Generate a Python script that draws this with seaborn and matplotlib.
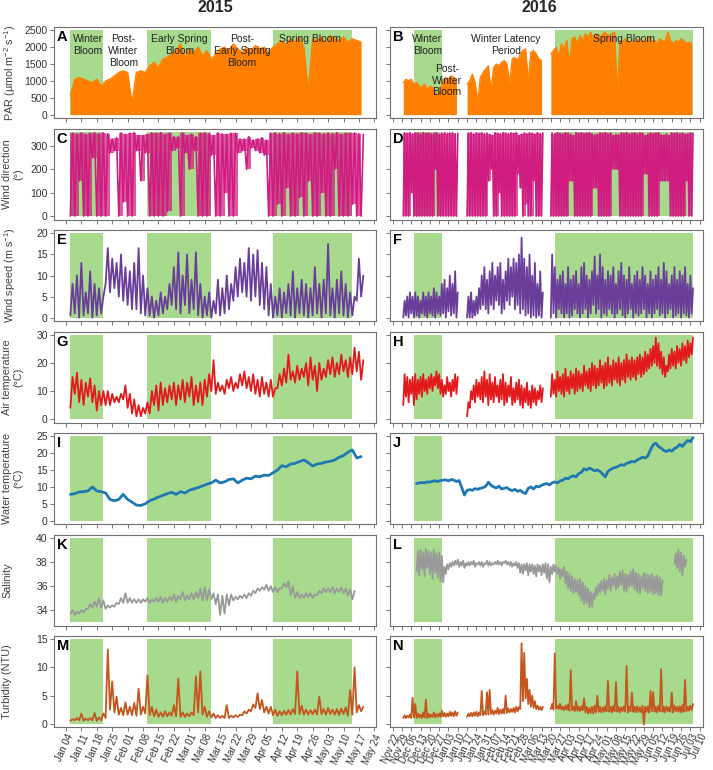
import numpy as np
import pandas as pd
import matplotlib
matplotlib.use("Agg")
import matplotlib.pyplot as plt
import seaborn as sns

# --- Data (one reading every 2 days) ---
STEP_DAYS = 2

start_2015 = "2015-01-06"
starts_2016 = ["2015-11-30", "2016-01-17", "2016-03-20"]
start_2016_water = "2015-12-10"
starts_2016_sal = ["2015-12-10", "2016-06-21"]

blooms_2015 = [("2015-01-06", "2015-01-21"), ("2015-02-10", "2015-03-11"), ("2015-04-08", "2015-05-14")]
blooms_2016 = [("2015-12-08", "2015-12-29"), ("2016-03-23", "2016-07-05")]

ticks_2015 = pd.date_range("2015-01-04", "2015-05-24", freq="7D")
ticks_2016 = pd.date_range("2015-11-22", "2016-07-10", freq="7D")

phases_2015 = ["Winter\nBloom", "Post-\nWinter\nBloom", "Early Spring\nBloom",
               "Post-\nEarly Spring\nBloom", "Spring Bloom"]
phases_2016 = ["Winter\nBloom", "Post-\nWinter\nBloom", "Winter Latency\nPeriod", "Spring Bloom"]

# PAR, daily maximum (umol m-2 s-1)
par_2015 = [550, 1050, 1100, 1050, 1000, 950, 1050, 850,
            1000, 1050, 1150, 1250, 1300, 1250, 350, 1250, 1300, 1250,
            1450, 1550, 1400, 1650, 1700, 1800, 1900, 2100, 1700, 1950, 1850, 2000, 1750, 1900, 1650,
            1800, 1950, 2000, 1900, 2100, 1950, 1850, 2000, 1900, 2050, 1950, 2000, 1850, 2000,
            2100, 2200, 2050, 2250, 2150, 2300, 2000, 700, 2250, 2200, 2300, 2100, 2350, 2250,
            2200, 2300, 2150, 2250, 2200, 2150]
par_2016 = [
    [950, 1050, 1000, 1050, 900, 950, 850, 800, 900, 750, 850, 800, 700, 500, 750, 1000,
     1100, 1050, 1150, 1100, 1000],
    [900, 1000, 1200, 950, 400, 1100, 1250, 1350, 1450, 700, 1400, 1500, 1450, 1550, 1600,
     1500, 900, 1650, 1700, 1600, 1800, 1900, 1950, 1000, 1850, 1900, 1800, 1650, 1600],
    [1800, 1900, 2000, 1700, 2100, 1950, 2200, 1500, 2250, 2300, 2100, 2350, 2200, 2400, 2300,
     2450, 2250, 2400, 2350, 2300, 2450, 2400, 2300, 2400, 2450, 600, 2200, 2150, 2250, 2200,
     2100, 2200, 2150, 2250, 2200, 2150, 2200, 2300, 2150, 2200, 2100, 2250, 2200, 2150, 2450,
     2200, 2100, 2200, 2150, 2250, 2200, 2100, 2150, 2100],
]

# wind direction (deg): low and high reading per step
wdir_2015_lo = [0, 0, 150, 0, 0, 250, 0, 0,
                0, 270, 280, 0, 60, 0, 0, 280, 150, 270,
                0, 0, 0, 0, 20, 280, 290,
                0, 270, 200, 280, 0, 0, 0,
                260, 0, 0, 100, 0, 0, 270,
                280, 200, 290, 280, 270, 260, 0,
                0, 50, 0, 120, 0, 0, 80, 0, 150, 0, 0, 100, 0, 0, 200, 0, 0, 0, 50, 0, 0]
wdir_2015_hi = [355, 352, 356, 350, 354, 357, 353, 356,
                352, 330, 335, 356, 350, 354, 357, 345, 345, 350,
                356, 354, 357, 350, 355, 340, 340,
                356, 345, 350, 340, 355, 357, 353,
                345, 356, 352, 350, 354, 355, 330,
                330, 340, 325, 330, 335, 325, 355,
                356, 353, 357, 350, 355, 352, 356, 354, 350, 357, 355, 352, 356, 353, 357,
                350, 355, 354, 356, 352, 350]
wdir_2016_lo = [
    [0, 0, 0, 100, 0, 0, 0, 0, 0, 0, 0, 0, 200, 0, 0, 0, 0, 0, 0, 0, 0],
    [0, 0, 0, 0, 0, 0, 0, 0, 150, 200, 0, 0, 100, 0, 0, 0, 0, 0, 0, 180, 120, 0, 50, 0, 0,
     150, 0, 0, 0],
    [0, 0, 0, 0, 0, 0, 0, 150, 150, 0, 0, 0, 0, 0, 0, 0, 120, 120, 0, 0, 0, 0, 0, 200, 200,
     200, 0, 0, 0, 0, 0, 0, 0, 0, 0, 180, 180, 0, 0, 0, 0, 150, 150, 150, 150, 0, 0, 0, 0,
     0, 0, 150, 0, 0],
]
wdir_2016_hi = [
    [356, 354, 357, 352, 355, 356, 353, 357, 354, 356, 352, 355, 357, 350, 354, 356, 353,
     355, 357, 352, 354],
    [355, 357, 352, 356, 354, 357, 353, 355, 350, 345, 356, 354, 352, 357, 355, 353, 356,
     354, 357, 345, 350, 355, 352, 356, 354, 350, 357, 353, 355],
    [356, 353, 357, 354, 352, 356, 355, 350, 345, 357, 354, 356, 353, 355, 357, 352, 348,
     350, 356, 354, 357, 353, 355, 345, 350, 348, 356, 354, 357, 352, 355, 356, 353, 357,
     354, 345, 350, 356, 353, 355, 357, 348, 346, 350, 345, 356, 354, 357, 353, 355, 350,
     352, 356, 354],
]

# wind speed (m s-1)
wspd_2015_lo = [0.5, 1, 0, 0.5, 1, 0, 0.5, 1,
                8, 6, 7, 5, 4, 3, 2, 2, 1, 0.5,
                0.5, 0, 0.5, 1, 2, 3, 2, 1, 3, 1, 2, 0.5, 0, 0.5, 0,
                1, 0.5, 1, 2, 4, 5, 6, 5, 4, 5, 3, 2, 0.5, 0,
                0.5, 0, 1, 0.5, 0, 1, 0.5, 0, 0.5, 1, 0, 1, 0.5, 0, 1, 0.5, 0, 0.5, 4, 5]
wspd_2015_hi = [8, 10, 13, 6, 11, 8, 7, 5,
                16.5, 14, 13, 15, 12, 11, 13, 16.5, 10, 7,
                5, 4, 6, 5, 8, 12, 15.5, 10, 15, 9, 15.5, 8, 5, 6, 4,
                9, 7, 10, 8, 12, 14, 13, 16.5, 15, 16, 13, 12, 8, 5,
                7, 6, 8, 11, 7, 9, 8, 7, 12, 8, 9, 17.5, 7, 9, 11, 8, 6, 5, 14, 10]
wspd_2016_lo = [
    [0, 0.5, 0, 1, 0, 0.5, 0, 1, 0.5, 0, 1, 0.5, 0, 1, 0.5, 1, 0, 1.5, 0.5, 1, 0],
    [0, 0, 0, 0.5, 1, 2, 3, 2, 1, 3, 2, 4, 3, 1, 2, 4, 3, 5, 2, 3, 1, 2, 0.5, 1, 0, 0.5, 0,
     0.5, 0],
    [0, 1, 0, 2, 1, 0, 1, 0, 0.5, 2, 1, 0, 1, 2, 0, 1, 3, 1, 2, 0, 1, 0.5, 2, 1, 0, 1, 2,
     0.5, 0, 1, 2, 0, 1, 0.5, 1, 2, 0, 1, 0, 1, 2, 0.5, 1, 0, 1, 2, 0, 0.5, 1, 0, 1, 0.5, 0, 1],
]
wspd_2016_hi = [
    [4, 5, 6, 5, 6, 5, 4, 6, 5, 6, 5, 7, 6, 5, 8, 9, 7, 10, 8, 11, 6],
    [5, 6, 4, 5, 7, 10, 12, 9, 11, 13, 10, 12, 13, 9, 11, 14, 12, 14, 13, 15, 19, 14, 12, 15,
     10, 13, 8, 11, 6],
    [15, 12, 9, 10, 11, 8, 12, 9, 10, 11, 8, 12, 13, 10, 9, 11, 14.5, 10, 15, 12, 9, 11, 10,
     12, 8, 11, 13, 10, 9, 12, 8, 10, 11, 9, 12, 10, 8, 11, 9, 10, 12, 9, 13, 11, 8, 10, 12,
     9, 11, 10, 12, 8, 10, 7],
]

# air temperature (C)
air_2015_lo = [4, 9, 6, 5, 8, 6, 3, 5,
               5, 5, 6, 6, 7, 4, 2, 1, 1, 2,
               2, 5, 3, 5, 6, 7, 5, 7, 6, 8, 5, 6, 5, 8, 10,
               9, 10, 9, 11, 10, 11, 12, 11, 10, 9, 8, 9, 8, 8,
               11, 12, 13, 14, 13, 14, 15, 12, 14, 10, 14, 15, 16, 15, 16, 17, 15, 16, 17, 14]
air_2015_hi = [15, 16.5, 14, 13, 14.5, 12, 10, 10,
               10, 9, 8, 9, 12, 9, 7, 5, 4, 6,
               10, 12, 13, 11, 12, 13, 12, 14, 13, 15, 12, 13, 14, 16, 21,
               13, 12, 14, 15, 13, 16, 17, 15, 16, 14, 15, 13, 14, 11,
               16, 18, 23, 17, 19, 18, 20, 22, 19, 20, 18, 21, 22, 20, 23, 21, 22, 25.5, 24, 21]
air_2016_lo = [
    [5, 8, 6, 9, 5, 7, 9, 8, 10, 9, 11, 10, 12, 11, 9, 8, 9, 10, 8, 10, 9],
    [1, 4, 7, 6, 8, 7, 6, 8, 5, 7, 6, 8, 6, 7, 5, 6, 8, 5, 6, 7, 5, 4, 6, 5, 4, 6, 5, 7, 6],
    [8, 9, 8, 10, 9, 8, 10, 9, 11, 9, 10, 11, 10, 12, 11, 10, 12, 11, 12, 13,
     11, 12, 13, 12, 14, 13, 12, 14, 13, 15, 14, 15, 14, 16, 15, 16, 17, 18, 19, 20,
     19, 18, 16, 15, 17, 18, 19, 18, 20, 19, 21, 20, 22, 23],
]
air_2016_hi = [
    [16, 15, 14, 15, 16, 14, 15, 16, 14, 15, 16, 15, 17, 16, 14, 12, 15, 13, 14, 16, 15],
    [6, 10, 12, 14, 13, 15, 17, 14, 16, 13, 15, 12, 14, 16, 13, 12, 15, 11, 13, 14, 12, 11,
     13, 10, 12, 11, 10, 12, 11],
    [16, 14, 17, 15, 16, 18, 15, 17, 16, 18, 17, 16, 19, 17, 18, 20, 19, 18, 21, 19,
     20, 22, 19, 21, 20, 22, 20, 21, 23, 21, 22, 21, 22, 23, 22, 24, 23, 25, 26, 29,
     27, 24, 22, 19, 23, 25, 24, 26, 25, 27, 26, 28, 27, 29],
]

# water temperature (C)
water_2015 = [7.8, 8.0, 8.5, 8.6, 8.8, 10.0, 8.8, 8.6, 8.2, 6.3,
              5.9, 6.3, 7.8, 6.3, 5.5, 4.6, 4.5, 5.0, 5.9, 6.4,
              7.0, 7.5, 8.0, 8.4, 7.8, 8.6, 8.2, 9.0, 9.4, 9.8,
              10.3, 10.8, 11.2, 12.0, 11.2, 11.5, 12.2, 12.4, 11.2, 12.0,
              12.6, 12.4, 13.2, 13.0, 13.5, 13.4, 14.2, 15.0, 16.3, 16.0,
              16.8, 17.0, 17.5, 18.0, 17.2, 16.2, 16.8, 17.0, 17.4, 17.6,
              18.0, 18.8, 19.3, 20.3, 21.0, 18.6, 19.0]
water_2016 = [11.0, 11.2, 11.3, 11.2, 11.5, 11.4, 11.7, 11.8, 11.6, 11.9,
              12.0, 12.1, 11.8, 12.2, 12.0, 11.6, 11.9, 9.8, 7.6, 9.0,
              9.2, 9.0, 9.5, 9.3, 9.6, 9.8, 10.2, 11.4, 10.5, 10.0,
              9.7, 10.2, 9.4, 9.6, 9.8, 9.2, 8.9, 9.3, 8.7, 9.0,
              8.4, 8.0, 9.6, 10.0, 9.4, 10.2, 10.0, 10.5, 10.8, 11.0,
              10.6, 11.2, 11.5, 11.2, 11.8, 12.0, 12.6, 12.4, 13.0, 13.3,
              13.0, 14.0, 14.3, 15.4, 15.0, 15.6, 15.2, 14.8, 15.0, 14.6,
              13.8, 13.0, 14.6, 15.2, 15.6, 15.8, 16.2, 16.6, 16.4, 17.0,
              17.2, 17.6, 17.4, 18.0, 18.4, 18.8, 18.6, 19.2, 21.0, 22.5,
              23.0, 22.0, 21.5, 20.8, 20.5, 21.0, 20.6, 21.4, 21.8, 22.6,
              22.0, 23.0, 23.8, 23.4, 24.6]

# salinity
sal_2015_lo = [33.7, 33.6, 33.7, 33.8, 34.1, 34.2, 34.3, 34.2,
               34.1, 34.2, 34.3, 34.5, 34.6, 34.6, 34.6,
               34.6, 34.6, 34.7, 34.6, 34.7, 34.7, 34.6,
               34.7, 34.8, 34.7, 34.9, 34.8, 34.9, 34.9,
               35.0, 34.8, 34.8, 34.9, 34.5, 33.6, 33.7,
               34.4, 34.8, 34.9, 35.0, 35.0, 35.2, 35.4,
               35.6, 35.7, 35.6, 35.5, 35.5, 35.8, 35.9,
               35.2, 35.0, 35.0, 35.0, 35.1, 35.0, 35.2,
               35.4, 35.5, 35.5, 35.4, 35.5, 35.4, 35.2, 34.9]
sal_2015_hi = [34.0, 33.9, 34.0, 34.1, 34.5, 34.7, 35.0, 34.8,
               34.4, 34.4, 34.6, 35.0, 35.4, 35.0, 34.9,
               34.9, 34.9, 35.0, 34.9, 35.0, 35.1, 35.0,
               35.1, 35.3, 35.2, 35.5, 35.2, 35.4, 35.5,
               35.8, 35.9, 35.7, 35.4, 35.3, 35.2, 35.3,
               35.3, 35.1, 35.2, 35.3, 35.4, 35.6, 35.8,
               35.9, 36.1, 36.0, 35.9, 35.8, 36.2, 36.4,
               36.0, 35.5, 35.3, 35.4, 35.4, 35.3, 35.6,
               35.8, 35.8, 35.9, 35.8, 35.9, 35.8, 35.7, 35.6]
sal_2016_lo = [
    [37.2, 36.9, 37.4, 36.8, 37.5, 37.0, 36.6, 37.1, 36.7, 36.4,
     36.3, 37.0, 37.4, 37.6, 37.7, 37.8, 37.6, 37.7, 37.5, 37.7,
     37.7, 37.8, 37.6, 37.8, 37.7, 37.6, 37.8, 37.7, 37.7, 37.8,
     37.8, 37.8, 37.7, 37.9, 37.8, 37.7, 37.6, 37.7, 37.5, 37.1,
     37.0, 37.3, 36.9, 37.2, 37.0, 36.8, 37.2, 36.9, 37.1, 36.6,
     36.3, 37.0, 37.2, 37.0, 36.6, 36.8, 36.2, 35.8, 35.6, 35.4,
     35.5, 35.2, 34.8, 34.5, 34.6, 34.2, 34.3, 34.9, 35.2, 35.5,
     35.6, 35.3, 35.8, 35.6, 36.0, 35.7, 35.9, 36.1, 35.6, 35.5,
     35.9, 36.0, 35.7, 35.5, 35.4, 35.8, 35.6, 35.4, 35.5, 35.3,
     35.4, 35.3, 35.2],
    [37.8, 37.5, 37.2, 36.9, 37.6],
]
sal_2016_hi = [
    [38.9, 39.0, 38.8, 39.1, 38.9, 38.8, 39.0, 38.7, 38.8, 38.5,
     37.6, 37.8, 37.9, 38.0, 38.1, 38.2, 38.0, 38.1, 37.9, 38.0,
     38.0, 38.1, 37.9, 38.0, 38.0, 37.9, 38.1, 38.0, 37.9, 38.0,
     38.1, 38.0, 38.0, 38.1, 38.0, 38.0, 37.9, 38.0, 37.9, 37.8,
     37.8, 37.9, 37.8, 37.8, 37.7, 37.8, 37.7, 37.8, 37.9, 37.8,
     37.6, 37.8, 37.7, 37.5, 37.4, 37.6, 37.2, 37.0, 36.8, 36.6,
     36.5, 36.6, 36.3, 36.0, 35.8, 35.5, 35.4, 35.9, 36.2, 36.4,
     36.6, 36.5, 36.9, 36.7, 37.0, 36.8, 37.2, 37.3, 37.0, 36.9,
     37.2, 37.4, 37.1, 37.0, 36.8, 37.1, 37.0, 36.9, 37.0, 36.8,
     36.9, 36.7, 36.5],
    [38.7, 39.0, 38.8, 38.5, 38.2],
]

# turbidity (NTU)
turb_2015_lo = [0.5, 0.6, 0.6, 0.5, 0.6, 0.6, 0.5, 0.6,
                1.0, 2.5, 2.0, 1.6, 1.5, 1.6, 1.5,
                1.4, 1.6, 1.8, 1.5, 1.3, 1.2, 1.2,
                1.3, 1.4, 1.3, 1.2, 1.2, 1.3, 1.5,
                2.0, 1.6, 1.2, 1.1, 1.0, 1.0, 1.0,
                1.0, 1.1, 1.2, 1.5, 1.8, 2.2, 2.8,
                2.6, 2.0, 1.8, 1.5, 1.4, 1.5, 1.6,
                1.6, 1.7, 1.7, 1.6, 1.6, 1.7, 1.6,
                1.7, 1.6, 1.7, 1.6, 1.5, 1.7, 1.4,
                1.6, 2.0, 2.2]
turb_2015_hi = [0.8, 1.0, 1.8, 0.9, 1.0, 1.9, 1.1, 1.8,
                13.2, 7.5, 4.8, 2.8, 3.8, 3.0, 3.7,
                6.2, 3.0, 8.6, 3.0, 2.5, 2.0, 2.2,
                2.0, 3.3, 8.0, 2.0, 1.8, 2.0, 8.4,
                9.3, 3.0, 2.2, 1.8, 1.5, 1.4, 3.3,
                1.4, 1.5, 1.6, 2.2, 2.5, 3.4, 5.4,
                4.2, 3.0, 3.0, 2.5, 2.2, 2.3, 2.4,
                2.6, 9.3, 3.2, 2.5, 2.4, 2.5, 4.8,
                2.6, 2.8, 2.5, 2.6, 2.7, 2.9, 6.0,
                10.0, 3.3, 3.0]
turb_2016_lo = [
    [1.0, 1.0, 1.1, 1.0, 1.1, 1.0, 1.1, 1.0, 1.1, 1.0, 1.1, 1.2, 1.1, 1.2, 1.2, 1.3, 1.2,
     1.3, 1.4, 1.3, 1.4],
    [1.2, 1.3, 1.3, 1.4, 1.3, 1.5, 1.5, 1.6, 1.6, 1.7, 1.6, 1.8, 1.7, 1.8, 1.8, 1.9, 2.0,
     2.1, 2.0, 2.2, 2.6, 4.0, 4.5, 3.5, 3.0, 2.8, 2.6, 2.5, 2.4],
    [2.6, 2.5, 2.7, 2.6, 2.5, 2.4, 2.5, 2.3, 2.4, 2.2, 2.3, 2.2, 2.4, 2.0, 1.8, 1.9, 1.8,
     2.0, 2.1, 2.0, 2.1, 2.2, 2.1, 2.0, 2.2, 2.1, 2.0, 2.2, 2.1, 2.0, 2.2, 2.1, 2.0, 2.1,
     2.0, -0.2, 2.1, 2.0, 2.2, 2.1, 2.0, 2.2, 2.1, 2.0, 2.2, 2.1, 2.0, 2.2, 2.1, 2.0, 2.1,
     2.2, 2.3, 2.4],
]
turb_2016_hi = [
    [1.5, 1.4, 1.6, 4.6, 3.5, 1.8, 1.6, 2.0, 4.3, 1.8, 1.6, 2.0, 1.7, 1.8, 2.3, 1.9, 1.8,
     2.1, 2.0, 2.2, 2.0],
    [1.8, 1.9, 2.0, 2.1, 2.0, 5.8, 2.2, 5.6, 6.0, 2.4, 2.3, 2.8, 2.5, 2.6, 5.0, 2.7, 2.6,
     2.8, 3.0, 2.9, 14.3, 12.6, 8.0, 6.0, 5.0, 4.0, 3.2, 3.0, 3.0],
    [3.5, 12.5, 3.2, 3.5, 3.0, 3.2, 3.4, 9.5, 3.0, 4.0, 3.0, 3.1, 4.5, 3.0, 2.8, 3.0, 3.2,
     5.0, 3.0, 2.9, 3.1, 7.6, 3.0, 3.2, 7.4, 3.0, 2.9, 3.1, 10.3, 3.0, 5.5, 3.0, 3.1, 2.9,
     3.2, 3.0, 3.1, 5.8, 5.6, 3.0, 3.2, 9.7, 3.0, 3.1, 2.9, 5.5, 3.2, 3.0, 3.1, 3.3, 7.8,
     3.0, 3.2, 3.5],
]


# --- helpers ---
def step_times(start, n):
    return pd.Timestamp(start) + pd.to_timedelta(np.arange(n) * STEP_DAYS, unit="D")


def zigzag_frame(start, lo, hi):
    """low reading at the start of each step, high reading half a step later"""
    assert len(lo) == len(hi), (start, len(lo), len(hi))
    t = step_times(start, len(lo))
    half = pd.Timedelta(days=STEP_DAYS / 2)
    time = np.empty(2 * len(lo), dtype="datetime64[ns]")
    time[0::2] = t.values
    time[1::2] = (t + half).values
    val = np.empty(2 * len(lo))
    val[0::2] = lo
    val[1::2] = hi
    return pd.DataFrame({"time": time, "value": val})


def line_frame(start, values):
    return pd.DataFrame({"time": step_times(start, len(values)), "value": values})


def draw(ax, frames, color, lw):
    df = pd.concat([f.assign(seg=k) for k, f in enumerate(frames)], ignore_index=True)
    sns.lineplot(data=df, x="time", y="value", units="seg", estimator=None, sort=False,
                 color=color, lw=lw, ax=ax, legend=False, zorder=3)


def band(ax, starts, los, his, color):
    # wind direction sweeps the whole range many times a day: shade the range per step
    for s, lo, hi in zip(starts, los, his):
        t = step_times(s, len(lo))
        ax.fill_between(t, lo, hi, step="post", color=color, alpha=0.72, lw=0, zorder=2)


# --- style ---
sns.set_style("ticks")
plt.rcParams["font.family"] = ["Liberation Sans", "DejaVu Sans"]
plt.rcParams["mathtext.fontset"] = "custom"
plt.rcParams["mathtext.rm"] = "Liberation Sans"
plt.rcParams["mathtext.it"] = "Liberation Sans:italic"
plt.rcParams["mathtext.bf"] = "Liberation Sans:bold"

GREEN = "#a8da8e"
TXT = "#333333"

panels = [
    # letter pair, y label, colour, line width, green range, y ticks
    ("AB", "PAR (µmol m$^{-2}$ s$^{-1}$)", "#ff8000", 1.0, (0, 2500), [0, 500, 1000, 1500, 2000, 2500]),
    ("CD", "Wind direction\n(°)", "#d01c80", 1.2, (0, 360), [0, 100, 200, 300]),
    ("EF", "Wind speed (m s$^{-1}$)", "#6a3d9a", 1.3, (0, 20), [0, 5, 10, 15, 20]),
    ("GH", "Air temperature\n(°C)", "#e31a1c", 1.3, (0, 30), [0, 10, 20, 30]),
    ("IJ", "Water temperature\n(°C)", "#1f78b4", 2.0, (0, 25), [0, 5, 10, 15, 20, 25]),
    ("KL", "Salinity", "#999999", 1.3, (33, 40), [34, 36, 38, 40]),
    ("MN", "Turbidity (NTU)", "#c4561e", 1.3, (0, 15), [0, 5, 10, 15]),
]

series = [
    (None, None),
    ([zigzag_frame(start_2015, wdir_2015_lo, wdir_2015_hi)],
     [zigzag_frame(s, lo, hi) for s, lo, hi in zip(starts_2016, wdir_2016_lo, wdir_2016_hi)]),
    ([zigzag_frame(start_2015, wspd_2015_lo, wspd_2015_hi)],
     [zigzag_frame(s, lo, hi) for s, lo, hi in zip(starts_2016, wspd_2016_lo, wspd_2016_hi)]),
    ([zigzag_frame(start_2015, air_2015_lo, air_2015_hi)],
     [zigzag_frame(s, lo, hi) for s, lo, hi in zip(starts_2016, air_2016_lo, air_2016_hi)]),
    ([line_frame(start_2015, water_2015)], [line_frame(start_2016_water, water_2016)]),
    ([zigzag_frame(start_2015, sal_2015_lo, sal_2015_hi)],
     [zigzag_frame(s, lo, hi) for s, lo, hi in zip(starts_2016_sal, sal_2016_lo, sal_2016_hi)]),
    ([zigzag_frame(start_2015, turb_2015_lo, turb_2015_hi)],
     [zigzag_frame(s, lo, hi) for s, lo, hi in zip(starts_2016, turb_2016_lo, turb_2016_hi)]),
]

W, H = 713, 770
fig = plt.figure(figsize=(W / 100, H / 100), dpi=100)


def px_axes(x0, y0, w, h):
    return fig.add_axes([x0 / W, 1 - (y0 + h) / H, w / W, h / H])


xlims = [(pd.Timestamp("2014-12-29 14:00"), pd.Timestamp("2015-05-24 18:00")),
         (pd.Timestamp("2015-11-20"), pd.Timestamp("2016-07-12 12:00"))]
ticks = [ticks_2015, ticks_2016]
blooms = [blooms_2015, blooms_2016]

axes = []
for r, (letters, ylab, color, lw, (glo, ghi), yt) in enumerate(panels):
    row = []
    for c in range(2):
        ax = px_axes(54 if c == 0 else 390, 27 + 101.5 * r, 322 if c == 0 else 313, 91)
        for b0, b1 in blooms[c]:
            ax.fill_between(pd.to_datetime([b0, b1]), glo, ghi, color=GREEN, lw=0, zorder=1)

        if r == 0:
            peaks = [par_2015] if c == 0 else par_2016
            starts = [start_2015] if c == 0 else starts_2016
            frames = [line_frame(s, p) for s, p in zip(starts, peaks)]
            for f in frames:
                ax.fill_between(f["time"], 0, f["value"], color=color, lw=0, zorder=2)
            draw(ax, frames, color, lw)
        else:
            if r == 1:
                if c == 0:
                    band(ax, [start_2015], [wdir_2015_lo], [wdir_2015_hi], color)
                else:
                    band(ax, starts_2016, wdir_2016_lo, wdir_2016_hi, color)
            draw(ax, series[r][c], color, lw)

        pad = 0.04 * (ghi - glo)
        ax.set_ylim(glo - pad, ghi + pad)
        ax.set_yticks(yt)
        ax.set_xlim(*xlims[c])
        ax.set_xticks(ticks[c])
        ax.set_xlabel("")
        ax.set_ylabel("")
        for s in ax.spines.values():
            s.set_color("#707070")
            s.set_linewidth(0.8)
        ax.tick_params(direction="out", length=3, width=0.6, color="#606060",
                       labelsize=7.5, labelcolor=TXT, pad=1.5)
        if c == 1:
            ax.tick_params(labelleft=False)
        else:
            ax.set_ylabel(ylab, fontsize=7.8, color="#404040", va="top", linespacing=1.15)
            ax.yaxis.set_label_coords(-0.161, 0.5)
        if r == len(panels) - 1:
            ax.set_xticklabels([d.strftime("%b %d") for d in ticks[c]], rotation=65,
                               ha="right", rotation_mode="anchor", fontsize=7, color=TXT)
            ax.tick_params(axis="x", pad=1)
        else:
            ax.tick_params(labelbottom=False)
        ax.annotate(letters[c], xy=(0, 1), xycoords="axes fraction", xytext=(2, -2.5),
                    textcoords="offset points", ha="left", va="top", fontsize=10.5,
                    weight="bold", color="black", zorder=6)
        row.append(ax)
    axes.append(row)

# bloom phase labels in the PAR panels
phase_pos_2015 = [("2015-01-14", 2380), ("2015-01-30", 2380), ("2015-02-24 12:00", 2380),
                  ("2015-03-25", 2380), ("2015-04-25", 2380)]
phase_pos_2016 = [("2015-12-18", 2380), ("2016-01-02", 1500), ("2016-02-15", 2380),
                  ("2016-05-14", 2380)]
for c, (labels, pos) in enumerate([(phases_2015, phase_pos_2015), (phases_2016, phase_pos_2016)]):
    for lab, (d, y) in zip(labels, pos):
        axes[0][c].text(pd.Timestamp(d), y, lab, ha="center", va="top", fontsize=7.5,
                        color="#222222", linespacing=1.2, zorder=6)

fig.text(215 / W, 1 - 8 / H, "2015", ha="center", va="center", fontsize=11.5, weight="bold")
fig.text(539 / W, 1 - 8 / H, "2016", ha="center", va="center", fontsize=11.5, weight="bold")

fig.savefig("out.png", dpi=100)
